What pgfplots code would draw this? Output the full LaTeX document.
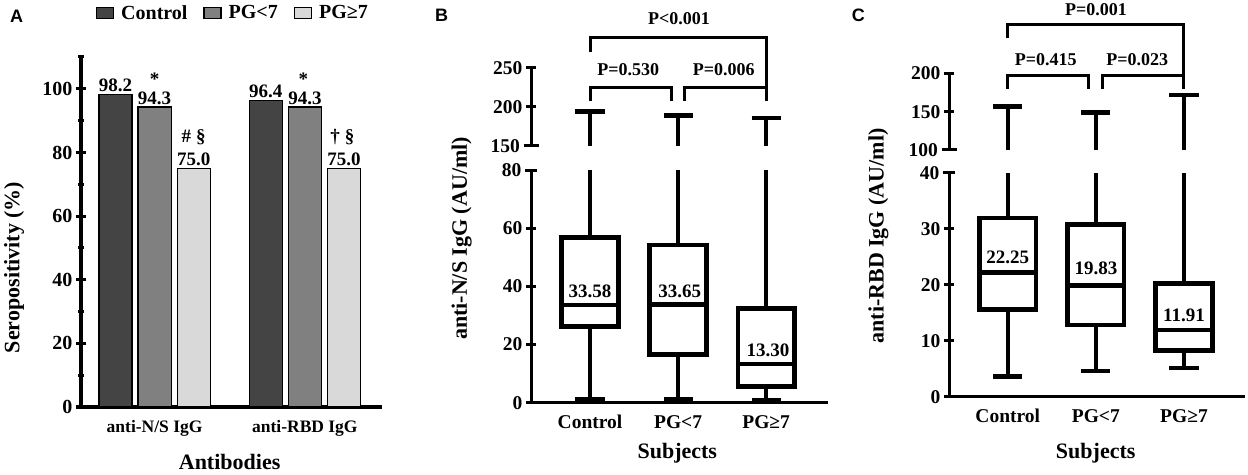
\documentclass[border=0pt]{standalone}
\usepackage{fontspec}
\setmainfont{Liberation Serif}
\newfontfamily\sansfont{Liberation Sans}
\usepackage{pgfplots}
\pgfplotsset{compat=1.18}
\definecolor{cCtl}{HTML}{444444}
\definecolor{cLow}{HTML}{808080}
\definecolor{cHigh}{HTML}{D9D9D9}
\newcommand\fs[1]{\fontsize{#1}{#1}\selectfont\bfseries}
\pgfplotsset{
  base/.style={
    scale only axis,
    tick style={line width=3bp, black},
    major tick length=10bp,
    minor tick length=5bp,
    tick align=outside,
    /pgf/number format/assume math mode=true,
    tick label style={font=\fs{19.5bp}},
    label style={font=\fs{22bp}},
    xtick style={draw=none},
    enlargelimits=false,
  },
  noarrow/.style={
    axis line style={line width=3bp, line cap=rect},
    every outer x axis line/.append style={-},
    every outer y axis line/.append style={-},
    every inner x axis line/.append style={-},
    every inner y axis line/.append style={-},
    x axis line style={-}, y axis line style={-},
  },
  boxl/.style={line width=4.8bp, black, line join=miter},
  whisk/.style={line width=4bp, black},
  capl/.style={line width=4.5bp, black},
  mylegend/.style={legend image code/.code={%
    \draw[##1,/tikz/.cd,line width=1.2bp] (0bp,-5.5bp) rectangle (17bp,5.5bp);}},
}
\begin{document}
\begin{tikzpicture}
\useasboundingbox (0,0) rectangle (1248bp,475bp);
% ---------------- Panel A ----------------
\begin{axis}[base, at={(81bp,68bp)}, anchor=south west, width=299bp, height=350bp,
  axis lines=left, noarrow, ymin=0, ymax=110, xmin=-0.49, xmax=1.5,
  ytick={0,20,40,60,80,100}, minor ytick={10,30,50,70,90,110},
  tick label style={font=\fs{20bp}},
  xtick={0,1}, xticklabels={anti-N/S IgG, anti-RBD IgG},
  xticklabel style={font=\fs{17.5bp}},
  ybar, bar width=0.22,
  nodes near coords, point meta=explicit symbolic,
  every node near coord/.append style={font=\fs{19bp}, anchor=south, inner sep=2bp, black},
  ylabel={Seropositivity (\%)},
  ylabel style={at={(axis description cs:-0.224,0.3986)}, anchor=center},
  xlabel={Antibodies},
  xlabel style={at={(axis description cs:0.497,-0.157)}, anchor=center},
  legend style={at={(axis description cs:0.508,1.126)}, anchor=center, draw=none, fill=none,
    legend columns=3, font=\fs{20bp},
    /tikz/every odd column/.append style={column sep=5bp},
    /tikz/every even column/.append style={column sep=14bp}},
  clip=false,
]
\addplot[fill=cCtl, draw=black, line width=1.2bp, bar shift=-0.26, mylegend]
  coordinates {(0,98.2) [98.2] (1,96.4) [96.4]};
\addplot[fill=cLow, draw=black, line width=1.2bp, bar shift=0, mylegend]
  coordinates {(0,94.3) [94.3] (1,94.3) [94.3]};
\addplot[fill=cHigh, draw=black, line width=1.2bp, bar shift=0.26, mylegend]
  coordinates {(0,75.0) [75.0] (1,75.0) [75.0]};
\legend{Control, PG<7, PG≥7}
\node[font=\fs{19bp}, anchor=base] at (axis cs:0,101) {*};
\node[font=\fs{19bp}, anchor=base] at (axis cs:0.99,101) {*};
\node[font=\fs{19bp}, anchor=base] at (axis cs:0.26,83.2) {\#\hspace{5bp}§};
\node[font=\fs{19bp}, anchor=base] at (axis cs:1.25,83.2) {†\hspace{5bp}§};
\end{axis}
% ---------------- Panel B ----------------
\begin{axis}[base, at={(531bp,72.3bp)}, anchor=south west, width=295bp, height=232.7bp,
  axis lines=left, noarrow, ymin=0, ymax=80, xmin=0.33, xmax=3.68,
  ytick={0,20,40,60}, extra y ticks={80},
  extra y tick style={tick align=center, major tick length=12bp},
  xtick={1,2,3}, xticklabels={Control, PG<7, PG≥7},
  xticklabel style={yshift=-4bp},
  ylabel={anti-N/S IgG (AU/ml)},
  ylabel style={at={(axis description cs:-0.235,0.7056)}, anchor=center},
  xlabel={Subjects},
  xlabel style={at={(axis description cs:0.496,-0.219)}, anchor=center},
  clip=false,
]
% Control
\addplot[boxl] coordinates {(0.68,26.1) (1.32,26.1) (1.32,56.7) (0.68,56.7)} -- cycle;
\addplot[boxl] coordinates {(0.68,33.58) (1.32,33.58)};
\addplot[whisk] coordinates {(1,26.1) (1,1.3)};
\addplot[capl] coordinates {(0.835,1.3) (1.165,1.3)};
\addplot[whisk] coordinates {(1,56.7) (1,80)};
% PG<7
\addplot[boxl] coordinates {(1.68,16.7) (2.32,16.7) (2.32,54.2) (1.68,54.2)} -- cycle;
\addplot[boxl] coordinates {(1.68,33.65) (2.32,33.65)};
\addplot[whisk] coordinates {(2,16.7) (2,1.3)};
\addplot[capl] coordinates {(1.835,1.3) (2.165,1.3)};
\addplot[whisk] coordinates {(2,54.2) (2,80)};
% PG>=7
\addplot[boxl] coordinates {(2.68,5.7) (3.32,5.7) (3.32,32.4) (2.68,32.4)} -- cycle;
\addplot[boxl] coordinates {(2.68,13.30) (3.32,13.30)};
\addplot[whisk] coordinates {(3,5.7) (3,0.9)};
\addplot[capl] coordinates {(2.835,0.9) (3.165,0.9)};
\addplot[whisk] coordinates {(3,32.4) (3,80)};
\node[font=\fs{19bp}] at (axis cs:1,38.4) {33.58};
\node[font=\fs{19bp}] at (axis cs:2.02,38.4) {33.65};
\node[font=\fs{19bp}] at (axis cs:3.02,18.1) {13.30};
\end{axis}
\begin{axis}[base, at={(531bp,329bp)}, anchor=south west, width=295bp, height=78.3bp,
  axis x line=none, axis y line=left, noarrow, ymin=150, ymax=250, xmin=0.33, xmax=3.68,
  ytick={200,250}, extra y ticks={150},
  extra y tick style={tick align=center, major tick length=15bp},
  clip=false,
]
\addplot[whisk] coordinates {(1,150) (1,194)};
\addplot[capl] coordinates {(0.835,194) (1.165,194)};
\addplot[whisk] coordinates {(2,150) (2,189)};
\addplot[capl] coordinates {(1.835,189) (2.165,189)};
\addplot[whisk] coordinates {(3,150) (3,186)};
\addplot[capl] coordinates {(2.835,186) (3.165,186)};
\draw[line width=3bp] (axis cs:1,208) -- (axis cs:1,225) -- (axis cs:1.92,225) -- (axis cs:1.92,208);
\draw[line width=3bp] (axis cs:2.07,208) -- (axis cs:2.07,225) -- (axis cs:3,225);
\draw[line width=3bp] (axis cs:1,270.5) -- (axis cs:1,289) -- (axis cs:3,289) -- (axis cs:3,208);
\node[font=\fs{18bp}] at (axis cs:2.01,312.8) {P<0.001};
\node[font=\fs{18bp}] at (axis cs:1.435,247.4) {P=0.530};
\node[font=\fs{18bp}] at (axis cs:2.52,247.4) {P=0.006};
\end{axis}
% ---------------- Panel C ----------------
\begin{axis}[base, at={(949bp,78.3bp)}, anchor=south west, width=294bp, height=224bp,
  axis lines=left, noarrow, ymin=0, ymax=40, xmin=0.333, xmax=3.67,
  ytick={0,10,20,30}, extra y ticks={40},
  extra y tick style={tick align=center, major tick length=12bp},
  xtick={1,2,3}, xticklabels={Control, PG<7, PG≥7},
  xticklabel style={yshift=-4bp},
  ylabel={anti-RBD IgG (AU/ml)},
  ylabel style={at={(axis description cs:-0.2405,0.7174)}, anchor=center},
  xlabel={Subjects},
  xlabel style={at={(axis description cs:0.499,-0.2545)}, anchor=center},
  clip=false,
]
% Control
\addplot[boxl] coordinates {(0.68,15.6) (1.32,15.6) (1.32,31.9) (0.68,31.9)} -- cycle;
\addplot[boxl] coordinates {(0.68,22.25) (1.32,22.25)};
\addplot[whisk] coordinates {(1,15.6) (1,3.6)};
\addplot[capl] coordinates {(0.835,3.6) (1.165,3.6)};
\addplot[whisk] coordinates {(1,31.9) (1,40)};
% PG<7
\addplot[boxl] coordinates {(1.68,12.8) (2.32,12.8) (2.32,30.8) (1.68,30.8)} -- cycle;
\addplot[boxl] coordinates {(1.68,19.83) (2.32,19.83)};
\addplot[whisk] coordinates {(2,12.8) (2,4.6)};
\addplot[capl] coordinates {(1.835,4.6) (2.165,4.6)};
\addplot[whisk] coordinates {(2,30.8) (2,40)};
% PG>=7
\addplot[boxl] coordinates {(2.68,8.2) (3.32,8.2) (3.32,20.2) (2.68,20.2)} -- cycle;
\addplot[boxl] coordinates {(2.68,11.91) (3.32,11.91)};
\addplot[whisk] coordinates {(3,8.2) (3,5.1)};
\addplot[capl] coordinates {(2.835,5.1) (3.165,5.1)};
\addplot[whisk] coordinates {(3,20.2) (3,40)};
\node[font=\fs{19bp}] at (axis cs:1,24.8) {22.25};
\node[font=\fs{19bp}] at (axis cs:2,22.9) {19.83};
\node[font=\fs{19bp}] at (axis cs:3,14.6) {11.91};
\end{axis}
\begin{axis}[base, at={(949bp,325bp)}, anchor=south west, width=294bp, height=76.7bp,
  axis x line=none, axis y line=left, noarrow, ymin=100, ymax=200, xmin=0.333, xmax=3.67,
  ytick={150,200}, extra y ticks={100},
  extra y tick style={tick align=center, major tick length=15bp},
  clip=false,
]
\addplot[whisk] coordinates {(1,100) (1,156.5)};
\addplot[capl] coordinates {(0.835,156.5) (1.165,156.5)};
\addplot[whisk] coordinates {(2,100) (2,148.6)};
\addplot[capl] coordinates {(1.835,148.6) (2.165,148.6)};
\addplot[whisk] coordinates {(3,100) (3,172)};
\addplot[capl] coordinates {(2.835,172) (3.165,172)};
\draw[line width=3bp] (axis cs:1,180) -- (axis cs:1,197.4) -- (axis cs:1.92,197.4) -- (axis cs:1.92,180);
\draw[line width=3bp] (axis cs:2.07,180) -- (axis cs:2.07,197.4) -- (axis cs:3,197.4);
\draw[line width=3bp] (axis cs:1,245.6) -- (axis cs:1,264) -- (axis cs:3,264) -- (axis cs:3,180);
\node[font=\fs{18bp}] at (axis cs:2.0,282.5) {P=0.001};
\node[font=\fs{18bp}] at (axis cs:1.43,218.3) {P=0.415};
\node[font=\fs{18bp}] at (axis cs:2.47,218.3) {P=0.023};
\end{axis}
% panel letters
\node[font=\sansfont\fontsize{18bp}{18bp}\selectfont\bfseries] at (16.7bp,458.7bp) {A};
\node[font=\sansfont\fontsize{18bp}{18bp}\selectfont\bfseries] at (441.7bp,459.2bp) {B};
\node[font=\sansfont\fontsize{18bp}{18bp}\selectfont\bfseries] at (858.3bp,459.5bp) {C};
\end{tikzpicture}
\end{document}
